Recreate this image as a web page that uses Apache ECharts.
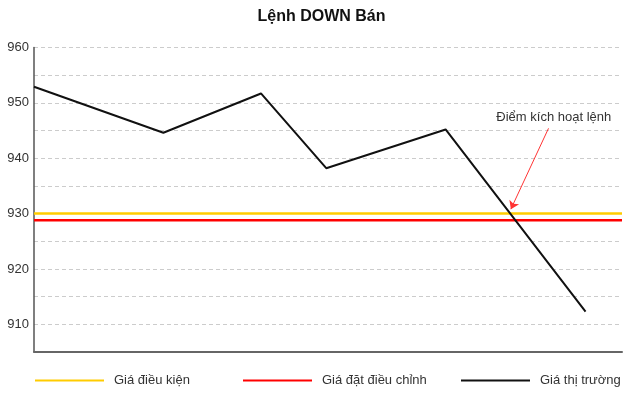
<!DOCTYPE html>
<html>
<head>
<meta charset="utf-8">
<script src="https://cdn.jsdelivr.net/npm/echarts@6/dist/echarts.min.js"></script>
<style>html,body{margin:0;padding:0;background:#fff}#c{width:643px;height:393px}</style>
</head>
<body>
<div id="c"></div>
<script>
// Data
var titleText = 'Lệnh DOWN Bán';
var seriesNames = ['Giá điều kiện', 'Giá đặt điều chỉnh', 'Giá thị trường'];
var marketX = [0, 22, 38.6, 49.7, 70, 93.8];
var marketY = [952.9, 944.6, 951.7, 938.2, 945.2, 912.3];
var conditionPrice = 930;
var adjustedPrice = 928.8;
var xRange = [0, 100];
var yRange = [905, 960];
var yStep = 5;
var annotationText = 'Điểm kích hoạt lệnh';
var annotationTextAt = [88.4, 947.3];
var arrowFrom = [87.5, 945.4];
var arrowTo = [81.1, 930.8];

var font = "'Liberation Sans', Arial, sans-serif";
var chart = echarts.init(document.getElementById('c'), null, {renderer: 'canvas'});

function pairs(xs, ys) { return xs.map(function (x, i) { return [x, ys[i]]; }); }

function legendFor(name, left) {
  return {
    data: [name], left: left, top: 374, icon: 'rect', itemWidth: 69, itemHeight: 2,
    padding: 0, selectedMode: false,
    textStyle: {fontFamily: font, fontSize: 13, color: '#333', padding: [0, 0, 0, 5]}
  };
}

chart.setOption({
  animation: false,
  textStyle: {fontFamily: font},
  title: {
    text: titleText, left: 'center', top: 4,
    textStyle: {fontFamily: font, fontSize: 16, fontWeight: 'bold', color: '#111'}
  },
  legend: [legendFor(seriesNames[0], 35), legendFor(seriesNames[1], 243), legendFor(seriesNames[2], 461)],
  grid: {left: 34, right: 21, top: 47.5, bottom: 41, containLabel: false},
  xAxis: {
    type: 'value', min: xRange[0], max: xRange[1],
    axisLine: {show: true, onZero: false, lineStyle: {color: '#666', width: 2}},
    axisTick: {show: false}, axisLabel: {show: false}, splitLine: {show: false}
  },
  yAxis: {
    type: 'value', min: yRange[0], max: yRange[1], interval: yStep,
    axisLine: {show: true, lineStyle: {color: '#555', width: 1.5}},
    axisTick: {show: false},
    axisLabel: {
      color: '#333', fontSize: 13, fontFamily: font, margin: 5,
      formatter: function (v) { return v % 10 === 0 ? String(v) : ''; }
    },
    splitLine: {show: true, lineStyle: {color: '#ccc', type: [4, 3], width: 1}}
  },
  series: [
    {
      name: seriesNames[0], type: 'line', symbol: 'none', color: '#FFCC00',
      lineStyle: {width: 2.5, color: '#FFCC00'},
      data: [[xRange[0], conditionPrice], [xRange[1], conditionPrice]], z: 3
    },
    {
      name: seriesNames[1], type: 'line', symbol: 'none', color: '#FF0000',
      lineStyle: {width: 2.5, color: '#FF0000'},
      data: [[xRange[0], adjustedPrice], [xRange[1], adjustedPrice]], z: 3
    },
    {
      name: seriesNames[2], type: 'line', symbol: 'none', color: '#111',
      lineStyle: {width: 2, color: '#111'},
      data: pairs(marketX, marketY), z: 4,
      markLine: {
        silent: true, symbol: ['none', 'arrow'], symbolSize: 8,
        lineStyle: {color: '#FF3333', width: 1, type: 'solid'},
        itemStyle: {color: '#FF3333'},
        label: {show: false},
        emphasis: {disabled: true},
        data: [[{coord: arrowFrom, symbol: 'none'}, {coord: arrowTo, symbol: 'arrow', symbolSize: 8}]]
      },
      markPoint: {
        silent: true, symbol: 'circle', symbolSize: 0,
        label: {show: true, position: 'inside', formatter: annotationText,
                color: '#333', fontSize: 13, fontFamily: font},
        data: [{coord: annotationTextAt}]
      }
    }
  ]
});
</script>
</body>
</html>
